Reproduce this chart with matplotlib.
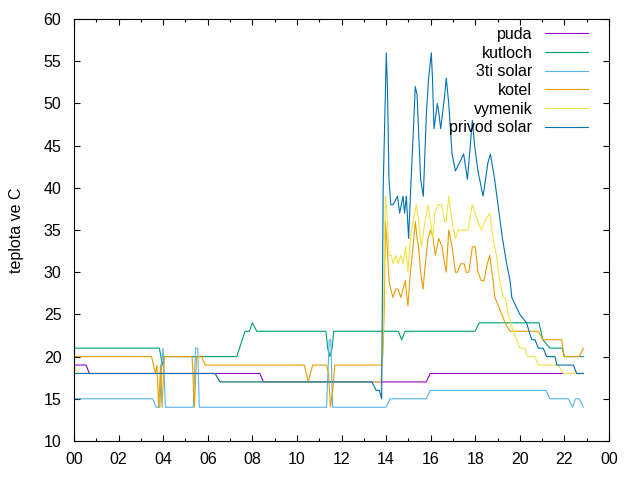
import matplotlib
matplotlib.use("Agg")
import matplotlib.pyplot as plt

# hours of day (0-24) vs temperature
puda_h = [0, 0.54, 0.69, 8.34, 8.50, 15.80, 15.98, 22.85]
puda_t = [19, 19, 18, 18, 17, 17, 18, 18]

kut_h = [0, 3.83, 3.90, 3.97, 4.05, 7.30, 7.67, 7.87, 8.00, 8.20, 11.30, 11.38,
         11.48, 11.58, 11.65, 14.55, 14.70, 14.85, 17.99, 18.18, 20.86, 21.03,
         21.35, 21.90, 22.00, 22.85]
kut_t = [21, 21, 20, 19, 20, 20, 23, 23, 24, 23, 23, 21, 20, 21, 23, 23, 22, 23,
         23, 24, 24, 22, 21, 21, 20, 20]

ti_h = [0, 3.53, 3.68, 3.85, 3.93, 4.00, 4.10, 5.35, 5.45, 5.55, 5.62, 11.33,
        11.45, 11.52, 11.60, 14.00, 14.18, 15.80, 15.98, 21.18, 21.35, 22.18,
        22.36, 22.50, 22.67, 22.85]
ti_t = [15, 15, 14, 14, 19, 21, 14, 14, 21, 21, 14, 14, 22, 22, 14, 14, 15, 15,
        16, 16, 15, 15, 14, 15, 15, 14]

kotel_h = [0, 3.48, 3.65, 3.72, 3.80, 3.88, 3.95, 4.05, 5.30, 5.40, 5.50, 5.73,
           5.88, 10.33, 10.51, 10.71, 11.33, 11.42, 11.50, 11.60, 11.70, 13.82,
           13.87, 13.92, 13.97, 14.05, 14.13, 14.21, 14.31, 14.43, 14.54, 14.66,
           14.76, 14.86, 14.98, 15.09, 15.21, 15.31, 15.39, 15.46, 15.55, 15.66,
           15.76, 15.88, 16.00, 16.11, 16.21, 16.36, 16.51, 16.63, 16.70, 16.81,
           16.96, 17.11, 17.20, 17.35, 17.50, 17.60, 17.71, 17.87, 18.00, 18.12,
           18.27, 18.39, 18.54, 18.65, 18.80, 18.88, 19.04, 19.19, 19.34, 19.56,
           20.83, 21.03, 21.88, 21.98, 22.67, 22.85]
kotel_t = [20, 20, 18, 19, 14, 19, 14, 20, 20, 14, 20, 20, 19, 19, 17, 19, 19,
           18, 14, 16, 19, 19, 21, 26, 36, 33, 29, 28, 27, 28, 28, 27, 28, 29,
           26, 30, 33, 36, 34, 33, 30, 28, 31, 34, 35, 34, 32, 34, 33, 31, 30,
           35, 33, 30, 30, 31, 31, 30, 30, 33, 33, 30, 29, 29, 31, 32, 29, 27,
           26, 25, 24, 23, 23, 22, 22, 20, 20, 21]

vym_h = [0, 0.2, 6.33, 6.55, 13.73, 13.80, 13.85, 13.97, 14.04, 14.13, 14.24,
         14.31, 14.43, 14.54, 14.66, 14.76, 14.88, 14.98, 15.09, 15.21, 15.36,
         15.46, 15.58, 15.69, 15.81, 15.88, 15.99, 16.11, 16.18, 16.33, 16.48,
         16.63, 16.70, 16.81, 16.96, 17.11, 17.23, 17.45, 17.67, 17.87, 18.12,
         18.27, 18.42, 18.65, 18.80, 18.95, 19.10, 19.25, 19.34, 19.48, 19.71,
         20.00, 20.23, 20.34, 20.68, 20.83, 21.73, 21.95, 22.85]
vym_t = [19, 18, 18, 17, 17, 18, 21, 39, 37, 32, 32, 31, 32, 31, 32, 31, 33, 30,
         34, 36, 38, 36, 33, 35, 37, 38, 36, 34, 37, 38, 38, 36, 36, 39, 36, 34,
         35, 35, 35, 38, 36, 35, 36, 37, 34, 32, 29, 27, 27, 25, 23, 21, 21, 20,
         20, 19, 19, 18, 18]

privod_h = [0, 6.33, 6.55, 13.36, 13.55, 13.70, 13.80, 13.87, 14.01, 14.06,
            14.13, 14.21, 14.31, 14.51, 14.61, 14.76, 14.83, 14.91, 15.01, 15.09,
            15.21, 15.31, 15.39, 15.55, 15.67, 15.81, 15.91, 16.03, 16.08, 16.15,
            16.30, 16.36, 16.45, 16.63, 16.70, 16.81, 16.96, 17.11, 17.30, 17.48,
            17.65, 17.87, 17.97, 18.12, 18.35, 18.57, 18.68, 18.87, 19.02, 19.22,
            19.41, 19.56, 19.64, 20.00, 20.30, 20.53, 20.68, 20.83, 21.05, 21.20,
            21.58, 21.66, 22.40, 22.55, 22.85]
privod_t = [18, 18, 17, 17, 16, 16, 15, 40, 56, 52, 41, 38, 38, 39, 37, 39, 37,
            39, 34, 39, 46, 52, 51, 41, 39, 49, 53, 56, 53, 47, 50, 49, 47, 51,
            53, 50, 44, 42, 43, 44, 41, 48, 45, 42, 39, 43, 44, 41, 38, 34, 31,
            29, 27, 25, 24, 22, 22, 21, 21, 20, 20, 19, 19, 18, 18]

series = [
    ("puda", puda_h, puda_t, "#9400d3"),
    ("kutloch", kut_h, kut_t, "#009e73"),
    ("3ti solar", ti_h, ti_t, "#56b4e9"),
    ("kotel", kotel_h, kotel_t, "#e69f00"),
    ("vymenik", vym_h, vym_t, "#f0e442"),
    ("privod solar", privod_h, privod_t, "#0072b2"),
]

x_ticks = list(range(0, 25, 2))
x_labels = ["00", "02", "04", "06", "08", "10", "12", "14", "16", "18", "20",
            "22", "00"]
y_ticks = list(range(10, 61, 5))

plt.rcParams["font.family"] = ["Liberation Sans", "DejaVu Sans"]
plt.rcParams["font.size"] = 11.5

fig = plt.figure(figsize=(6.4, 4.8), dpi=100)
ax = fig.add_axes([74 / 640, 39 / 480, 535 / 640, 422 / 480])

for name, h, t, c in series:
    ax.plot(h, t, color=c, lw=0.8, label=name)

ax.set_xlim(0, 24)
ax.set_ylim(10, 60)
ax.set_xticks(x_ticks)
ax.set_xticklabels(x_labels)
ax.set_xticks(range(1, 24, 2), minor=True)
ax.set_yticks(y_ticks)
ax.tick_params(which="both", direction="in", top=True, right=True,
               width=0.8, colors="black")
ax.tick_params(which="major", length=4.5, pad=8)
ax.tick_params(which="minor", length=2.5)
ax.tick_params(axis="y", pad=9)
for sp in ax.spines.values():
    sp.set_linewidth(0.8)

ax.set_ylabel("teplota ve C", labelpad=14)

ax.legend(loc="upper right", bbox_to_anchor=(0.976, 1.0), frameon=False,
          markerfirst=False, handlelength=2.7, handletextpad=0.8,
          labelspacing=0.23, borderaxespad=0.2, borderpad=0.3)

fig.savefig("out.png", dpi=100)
